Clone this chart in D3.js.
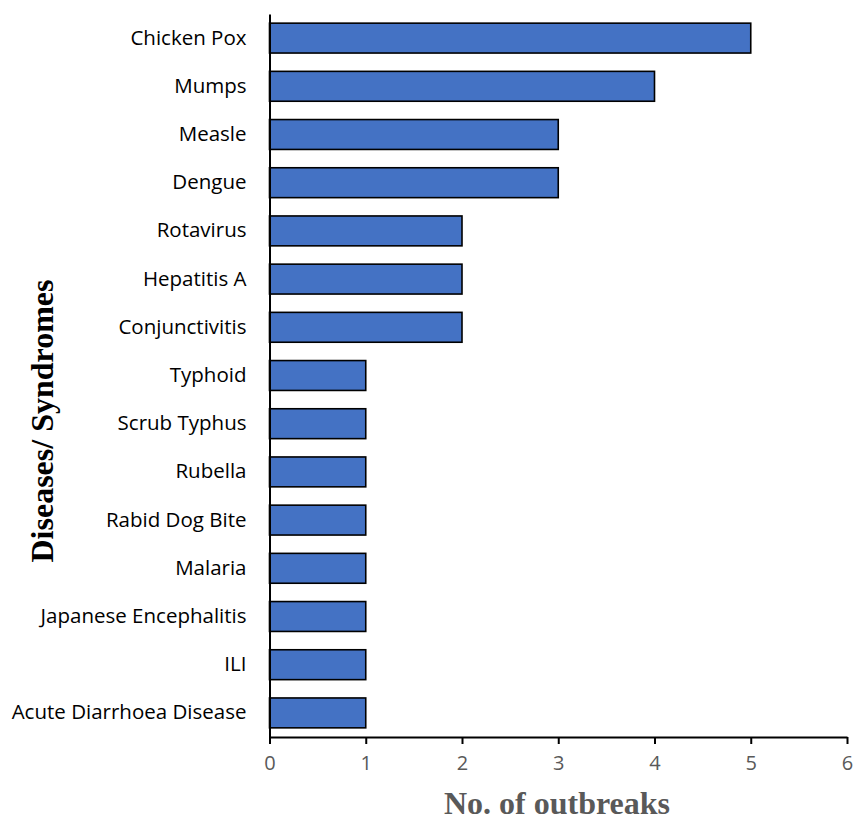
<!DOCTYPE html>
<html>
<head>
<meta charset="utf-8">
<script src="https://cdn.jsdelivr.net/npm/d3@7"></script>
<style>
  body { margin: 0; background: #fff; }
</style>
</head>
<body>
<svg class="chart"></svg>
<script>
var diseases = ["Chicken Pox", "Mumps", "Measle", "Dengue", "Rotavirus", "Hepatitis A",
  "Conjunctivitis", "Typhoid", "Scrub Typhus", "Rubella", "Rabid Dog Bite", "Malaria",
  "Japanese Encephalitis", "ILI", "Acute Diarrhoea Disease"];
var outbreaks = [5, 4, 3, 3, 2, 2, 2, 1, 1, 1, 1, 1, 1, 1, 1];
var xTicks = [0, 1, 2, 3, 4, 5, 6];

var width = 854,
    height = 820;

var plotLeft = 269.5, plotRight = 847, plotTop = 14, plotBottom = 737;

var chart = d3.select(".chart")
    .attr("width", width)
    .attr("height", height);

var x = d3.scaleLinear().domain([0, 6]).range([plotLeft, plotRight]);
var y = d3.scaleBand().domain(diseases).range([plotTop, plotBottom]).paddingInner(0.38).paddingOuter(0.19);

var data = diseases.map(function(d, i) { return {name: d, value: outbreaks[i]}; });

// bars
chart.selectAll(".bar")
  .data(data)
  .enter().append("rect")
    .attr("class", "bar")
    .attr("x", x(0))
    .attr("y", function(d) { return y(d.name); })
    .attr("width", function(d) { return x(d.value) - x(0); })
    .attr("height", y.bandwidth())
    .style("fill", "#4472C4")
    .style("stroke", "#000")
    .style("stroke-width", 1.6);

// x axis
var xAxis = chart.append("g")
  .attr("transform", "translate(0," + plotBottom + ")")
  .call(d3.axisBottom(x).tickValues(xTicks).tickFormat(d3.format("d")).tickSize(7).tickSizeOuter(0).tickPadding(12));
xAxis.select(".domain").attr("stroke", "#000").attr("stroke-width", 2);
xAxis.selectAll(".tick line").attr("stroke", "#000").attr("stroke-width", 2);
xAxis.selectAll("text")
  .attr("fill", "#595959")
  .style("font-family", "'Open Sans', sans-serif")
  .style("font-size", "20px");

// y axis
var yAxis = chart.append("g")
  .attr("transform", "translate(" + plotLeft + ",0)")
  .call(d3.axisLeft(y).tickSize(0).tickPadding(23));
yAxis.select(".domain").attr("stroke", "#000").attr("stroke-width", 2);
yAxis.selectAll("text")
  .attr("fill", "#000")
  .style("font-family", "'Open Sans', sans-serif")
  .style("font-size", "20.5px");

// axis titles
chart.append("text")
  .attr("x", 557)
  .attr("y", 814)
  .attr("text-anchor", "middle")
  .style("font-family", "'Liberation Serif', serif")
  .style("font-weight", "bold")
  .style("font-size", "32px")
  .style("fill", "#595959")
  .text("No. of outbreaks");

chart.append("text")
  .attr("transform", "translate(53,421) rotate(-90)")
  .attr("text-anchor", "middle")
  .style("font-family", "'Liberation Serif', serif")
  .style("font-weight", "bold")
  .style("font-size", "32px")
  .style("fill", "#000")
  .text("Diseases/ Syndromes");
</script>
</body>
</html>
